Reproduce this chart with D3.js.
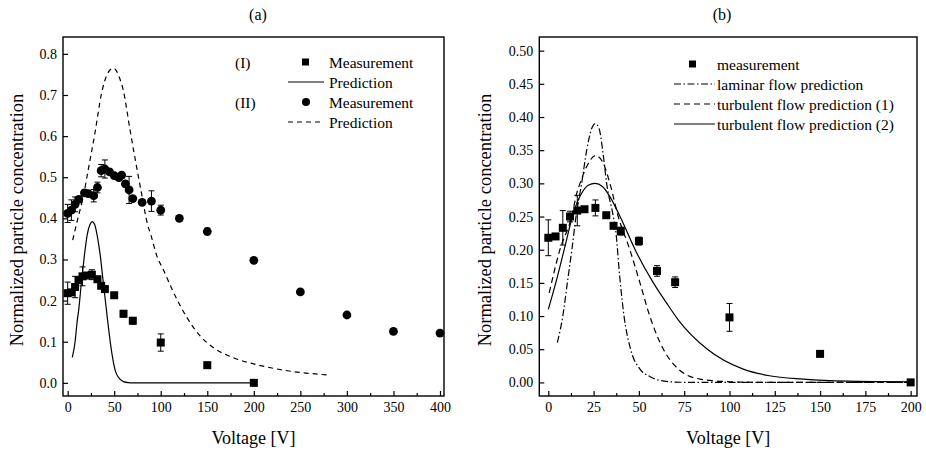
<!DOCTYPE html>
<html>
<head>
<meta charset="utf-8">
<script src="https://cdn.jsdelivr.net/npm/d3@7"></script>
<style>
  body { margin: 0; background: #fff; }
  svg text { font-family: "Liberation Serif", "Times New Roman", serif; fill: #000; }
</style>
</head>
<body>
<svg id="chart" width="926" height="457"></svg>
<script>
// measurement (I) -- same data is shown in panel (b)
const measVoltage = [0, 4, 8, 12, 16, 20, 26, 32, 36, 40, 50, 60, 70, 100, 150, 200];
const measConc    = [0.218, 0.220, 0.233, 0.250, 0.259, 0.261, 0.263, 0.252, 0.236, 0.228, 0.213, 0.168, 0.151, 0.098, 0.043, 0.000];
const measErr     = [0.027, 0.004, 0.026, 0.008, 0.023, 0.004, 0.012, 0.004, 0.004, 0.006, 0.006, 0.008, 0.008, 0.021, 0.004, 0.000];

// measurement (II) -- circles in panel (a)
const circVoltage = [0, 4, 8, 12, 18, 22, 28, 32, 36, 40, 45, 50, 55, 58, 62, 66, 70, 80, 90, 100, 120, 150, 200, 250, 300, 350, 400];
const circConc    = [0.412, 0.420, 0.434, 0.446, 0.462, 0.460, 0.455, 0.475, 0.516, 0.520, 0.513, 0.504, 0.499, 0.505, 0.484, 0.469, 0.448, 0.439, 0.442, 0.420, 0.400, 0.368, 0.298, 0.221, 0.165, 0.125, 0.121];
const circErr     = [0.022, 0.025, 0.018, 0.005, 0.005, 0.005, 0.015, 0.013, 0.015, 0.022, 0.005, 0.005, 0.005, 0.005, 0.005, 0.033, 0.005, 0.005, 0.025, 0.012, 0.005, 0.008, 0.005, 0.005, 0.005, 0.005, 0.005];

// predictions, panel (a)  [voltage, concentration]
const predI = [[5, 0.062], [8, 0.10], [10, 0.145], [12, 0.18], [15, 0.25], [18, 0.31], [21, 0.36], [24, 0.385], [26.5, 0.392],
  [29, 0.385], [32, 0.355], [35, 0.31], [38, 0.25], [40, 0.21], [43, 0.15], [45.5, 0.104], [48, 0.065], [51, 0.031],
  [55, 0.012], [60, 0.003], [65, 0.0005], [70, 0], [200, 0]];
const predII = [[5.4, 0.347], [11, 0.40], [16.8, 0.453], [22.1, 0.518], [29.3, 0.607], [36.5, 0.705], [42, 0.748], [46, 0.762],
  [49, 0.765], [52, 0.760], [56, 0.740], [59.7, 0.712], [67, 0.615], [74, 0.526], [80, 0.453], [85.5, 0.388], [90, 0.355],
  [95.6, 0.310], [102.8, 0.275], [113.5, 0.221], [127.8, 0.160], [142, 0.115], [156.4, 0.086], [178, 0.061], [200, 0.046],
  [231.7, 0.031], [280, 0.019]];

// predictions, panel (b)
const laminar = [[5, 0.06], [8, 0.10], [10.5, 0.15], [13, 0.20], [15.3, 0.25], [18.4, 0.30], [21.2, 0.35], [24, 0.383], [26, 0.39],
  [28, 0.383], [30, 0.35], [32.2, 0.30], [35.9, 0.25], [37.2, 0.229], [39.5, 0.157], [41.8, 0.10], [45.4, 0.05], [50.6, 0.02],
  [56, 0.009], [60, 0.004], [70, 0.0005], [80, 0], [200, 0]];
const turb1 = [[0.5, 0.135], [6.4, 0.20], [12.9, 0.25], [15.7, 0.285], [17.5, 0.30], [22.1, 0.33], [26, 0.342], [30.4, 0.33],
  [34, 0.30], [38.6, 0.25], [45, 0.20], [50.6, 0.15], [56, 0.10], [63.5, 0.05], [71.8, 0.02], [83.7, 0.005], [100, 0.001], [120, 0], [200, 0]];
const turb2 = [[0, 0.11], [4.6, 0.155], [9.2, 0.205], [13.8, 0.255], [18.4, 0.285], [22, 0.297], [25.8, 0.300], [30, 0.295],
  [34, 0.28], [39.6, 0.25], [48.8, 0.195], [58, 0.15], [65.3, 0.1195], [71.8, 0.094], [87.8, 0.05], [107.6, 0.02], [122, 0.01],
  [140.7, 0.005], [165, 0.002], [200, 0.001]];

const svg = d3.select("#chart");

function makePanel(opt) {
  const g = svg.append("g");
  const x = d3.scaleLinear().domain(opt.xDomain).range([opt.left, opt.right]);
  const y = d3.scaleLinear().domain(opt.yDomain).range([opt.bottom, opt.top]);

  // minor x ticks
  g.append("g")
    .attr("transform", `translate(0,${opt.bottom})`)
    .call(d3.axisBottom(x).tickValues(opt.xMinor).tickSize(-3).tickFormat(""))
    .call(a => a.select(".domain").remove());

  g.append("g")
    .attr("transform", `translate(0,${opt.bottom})`)
    .call(d3.axisBottom(x).tickValues(opt.xTicks).tickSize(-5).tickPadding(6))
    .call(a => a.select(".domain").remove())
    .selectAll("text").attr("font-size", "14px");

  g.append("g")
    .attr("transform", `translate(${opt.left},0)`)
    .call(d3.axisLeft(y).tickValues(opt.yTicks).tickSize(-5).tickPadding(6).tickFormat(d3.format(opt.yFmt)))
    .call(a => a.select(".domain").remove())
    .selectAll("text").attr("font-size", "14px");

  g.selectAll(".tick line").attr("stroke-width", 1.2);
  g.selectAll(".tick text").attr("font-family", "Liberation Serif").attr("fill", "#000");

  g.append("rect")
    .attr("x", opt.left).attr("y", opt.top)
    .attr("width", opt.right - opt.left).attr("height", opt.bottom - opt.top)
    .attr("fill", "none").attr("stroke", "#000").attr("stroke-width", 1.4);

  g.append("text")
    .attr("x", opt.titleX).attr("y", 14)
    .attr("text-anchor", "middle").attr("dominant-baseline", "central")
    .attr("font-size", "16px").text(opt.title);

  g.append("text")
    .attr("x", (opt.left + opt.right) / 2).attr("y", 444)
    .attr("text-anchor", "middle").attr("font-size", "18px")
    .text("Voltage [V]");

  g.append("text")
    .attr("transform", `translate(${opt.yLabelX},220) rotate(-90)`)
    .attr("text-anchor", "middle").attr("dominant-baseline", "central")
    .attr("font-size", "18.5px")
    .text("Normalized particle concentration");

  return { g, x, y };
}

function drawLine(p, data, dash) {
  const line = d3.line().x(d => p.x(d[0])).y(d => p.y(d[1])).curve(d3.curveMonotoneX);
  p.g.append("path")
    .datum(data)
    .attr("d", line)
    .attr("fill", "none")
    .attr("stroke", "#000")
    .attr("stroke-width", 1.2)
    .attr("stroke-dasharray", dash);
}

function drawErrors(p, xs, ys, es) {
  const rows = xs.map((v, i) => ({ v, c: ys[i], e: es[i] })).filter(d => d.e > 0.0055);
  const eg = p.g.append("g").attr("stroke", "#000").attr("stroke-width", 1);
  eg.selectAll("line.bar").data(rows).join("line").attr("class", "bar")
    .attr("x1", d => p.x(d.v)).attr("x2", d => p.x(d.v))
    .attr("y1", d => p.y(d.c - d.e)).attr("y2", d => p.y(d.c + d.e));
  eg.selectAll("line.capt").data(rows).join("line").attr("class", "capt")
    .attr("x1", d => p.x(d.v) - 3).attr("x2", d => p.x(d.v) + 3)
    .attr("y1", d => p.y(d.c + d.e)).attr("y2", d => p.y(d.c + d.e));
  eg.selectAll("line.capb").data(rows).join("line").attr("class", "capb")
    .attr("x1", d => p.x(d.v) - 3).attr("x2", d => p.x(d.v) + 3)
    .attr("y1", d => p.y(d.c - d.e)).attr("y2", d => p.y(d.c - d.e));
}

function drawSquares(p, xs, ys, s) {
  p.g.append("g").selectAll("rect").data(xs).join("rect")
    .attr("x", (d, i) => p.x(d) - s / 2)
    .attr("y", (d, i) => p.y(ys[i]) - s / 2)
    .attr("width", s).attr("height", s)
    .attr("fill", "#000");
}

function drawCircles(p, xs, ys, r) {
  p.g.append("g").selectAll("circle").data(xs).join("circle")
    .attr("cx", d => p.x(d))
    .attr("cy", (d, i) => p.y(ys[i]))
    .attr("r", r)
    .attr("fill", "#000");
}

// ---- panel (a)
const pa = makePanel({
  left: 63, right: 444, top: 37, bottom: 396,
  xDomain: [-5, 404.3], yDomain: [-0.032, 0.841],
  xTicks: d3.range(0, 401, 50), xMinor: d3.range(25, 400, 50),
  yTicks: d3.range(0, 0.81, 0.1), yFmt: ".1f",
  title: "(a)", titleX: 258, yLabelX: 17
});

drawLine(pa, predII, "5,4");
drawLine(pa, predI, null);
drawErrors(pa, circVoltage, circConc, circErr);
drawCircles(pa, circVoltage, circConc, 4.4);
drawErrors(pa, measVoltage, measConc, measErr);
drawSquares(pa, measVoltage, measConc, 8);

// legend (a)
const legA = pa.g.append("g");
const legARows = [
  { tag: "(I)", kind: "square", label: "Measurement", y: 62 },
  { tag: "", kind: "solid", label: "Prediction", y: 82 },
  { tag: "(II)", kind: "circle", label: "Measurement", y: 102 },
  { tag: "", kind: "dash", label: "Prediction", y: 122 }
];
legARows.forEach(r => {
  legA.append("text").attr("x", 235).attr("y", r.y).attr("dominant-baseline", "central")
    .attr("font-size", "15.5px").text(r.tag);
  legA.append("text").attr("x", 329).attr("y", r.y).attr("dominant-baseline", "central")
    .attr("font-size", "15.5px").text(r.label);
  if (r.kind === "square") {
    legA.append("rect").attr("x", 302).attr("y", r.y - 3.5).attr("width", 7).attr("height", 7).attr("fill", "#000");
  } else if (r.kind === "circle") {
    legA.append("circle").attr("cx", 306).attr("cy", r.y).attr("r", 4).attr("fill", "#000");
  } else {
    legA.append("line").attr("x1", 288).attr("x2", 324).attr("y1", r.y).attr("y2", r.y)
      .attr("stroke", "#000").attr("stroke-width", 1.2)
      .attr("stroke-dasharray", r.kind === "dash" ? "5,4" : null);
  }
});

// ---- panel (b)
const pb = makePanel({
  left: 539.3, right: 917, top: 37, bottom: 396,
  xDomain: [-4.97, 203.5], yDomain: [-0.0205, 0.5206],
  xTicks: d3.range(0, 201, 25), xMinor: d3.range(12.5, 200, 25),
  yTicks: d3.range(0, 0.501, 0.05), yFmt: ".2f",
  title: "(b)", titleX: 722, yLabelX: 485
});

const dashDot = "7,2.5,1.5,2.5";
drawLine(pb, laminar, dashDot);
drawLine(pb, turb1, "6,4");
drawLine(pb, turb2, null);
drawErrors(pb, measVoltage, measConc, measErr);
drawSquares(pb, measVoltage, measConc, 8);

const legB = pb.g.append("g");
const legBRows = [
  { kind: "square", label: "measurement", y: 64 },
  { kind: dashDot, label: "laminar flow prediction", y: 84 },
  { kind: "6,4", label: "turbulent flow prediction (1)", y: 104 },
  { kind: "solid", label: "turbulent flow prediction (2)", y: 124 }
];
legBRows.forEach(r => {
  legB.append("text").attr("x", 717).attr("y", r.y).attr("dominant-baseline", "central")
    .attr("font-size", "15.5px").text(r.label);
  if (r.kind === "square") {
    legB.append("rect").attr("x", 689).attr("y", r.y - 3.5).attr("width", 7).attr("height", 7).attr("fill", "#000");
  } else {
    legB.append("line").attr("x1", 674).attr("x2", 715).attr("y1", r.y).attr("y2", r.y)
      .attr("stroke", "#000").attr("stroke-width", 1.2)
      .attr("stroke-dasharray", r.kind === "solid" ? null : r.kind);
  }
});
</script>
</body>
</html>
